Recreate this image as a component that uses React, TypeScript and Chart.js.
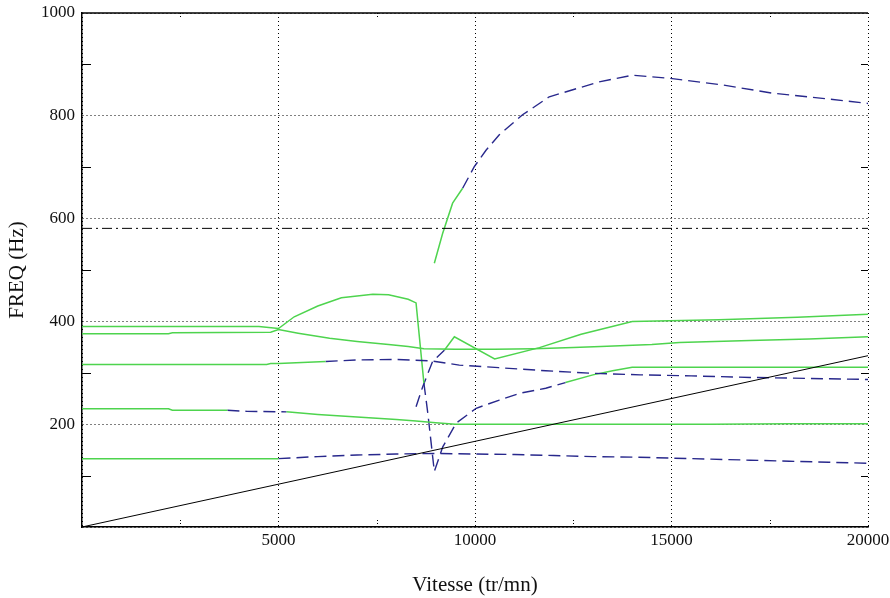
import React, { useEffect, useRef } from 'react';
import { Chart, registerables } from 'chart.js';

Chart.register(...registerables);

// Axis ranges and ticks
const X_MIN = 0;
const X_MAX = 20000;
const X_STEP = 5000;
const Y_MIN = 0;
const Y_MAX = 1000;
const Y_STEP = 200;
const MINOR_X = [2500, 7500, 12500, 17500];
const MINOR_Y = [100, 300, 500, 700, 900];

const X_TITLE = 'Vitesse (tr/mn)';
const Y_TITLE = 'FREQ (Hz)';

// Excitation line (1 x speed) and limit line
const EXC_X = [0, 20000];
const EXC_Y = [0, 333.3];
const LIMIT_X = [0, 20000];
const LIMIT_Y = [581, 581];

// Mode 1
const M1G_X = [0, 5000];
const M1G_Y = [133, 133];
const M1B_X = [5000, 6000, 7000, 8000, 9000, 10000, 11000, 12000, 13000, 14000, 15000, 16000, 17000, 18000, 19000, 20000];
const M1B_Y = [133, 137, 140, 142, 143, 142, 141, 139, 137, 136, 134, 132, 130, 128, 126, 124];

// Mode 2
const M2G1_X = [0, 2200, 2300, 3700];
const M2G1_Y = [230, 230, 227, 227];
const M2B_X = [3700, 4200, 5200];
const M2B_Y = [227, 225, 224];
const M2G2_X = [5200, 6000, 7000, 8000, 8500, 9000, 9500, 10000, 12000, 14000, 16000, 18000, 20000];
const M2G2_Y = [224, 219, 214, 209, 206, 203, 200, 200, 200, 200, 200, 201, 201];

// Mode 3
const M3G_X = [0, 4700, 4800, 5000, 6200];
const M3G_Y = [316, 316, 318, 318, 322];
const M3B_X = [6200, 7000, 8000, 8900, 9600, 10600, 11800, 13000, 14200, 15500, 17000, 18500, 20000];
const M3B_Y = [322, 325, 326, 323, 315, 310, 304, 299, 296, 294, 291, 289, 287];

// Mode 4 (arc, drop, rise)
const M4G1_X = [0, 4500, 5000, 5400, 6000, 6600, 7400, 7800, 8300, 8500, 8700];
const M4G1_Y = [390, 390, 386, 409, 430, 446, 453, 452, 443, 436, 280];
const M4B_X = [8700, 8800, 8965, 9180, 9520, 10030, 10620, 11130, 11800, 12300];
const M4B_Y = [280, 221, 108, 156, 202, 231, 247, 260, 270, 281];
const M4G2_X = [12300, 13000, 13500, 14000, 20000];
const M4G2_Y = [281, 296, 304, 311, 311];

// Mode 5
const M5G_X = [0, 2200, 2300, 4800, 5000, 5500, 6300, 7000, 7800, 8300, 8700, 9500, 10500, 11500, 12500, 13200, 14500, 15200, 17000, 18500, 20000];
const M5G_Y = [376, 376, 378, 379, 384, 377, 367, 361, 355, 351, 347, 346, 346, 347, 349, 351, 355, 359, 363, 366, 370];

// Mode 6
const M6B_X = [8500, 8670, 8920, 9220];
const M6B_Y = [234, 273, 322, 344];
const M6G_X = [9220, 9475, 10500, 11640, 12700, 14000, 16200, 18200, 20000];
const M6G_Y = [344, 370, 327, 349, 375, 400, 403, 408, 414];

// Mode 7
const M7G_X = [8965, 9176, 9430, 9685];
const M7G_Y = [513, 571, 630, 659];
const M7B_X = [9685, 9982, 10280, 10618, 11210, 11890, 13160, 14010, 14940, 16300, 17570, 18840, 20000];
const M7B_Y = [659, 701, 733, 763, 802, 837, 866, 879, 873, 860, 844, 834, 824];

const GREEN = 'rgb(78,212,78)';
const BLUE = 'rgb(40,40,140)';
const BLACK = '#000000';
const FONT = "'Liberation Serif', 'Times New Roman', serif";

const pts = (xs: number[], ys: number[]) => xs.map((x, i) => ({ x, y: ys[i] }));

const green = (xs: number[], ys: number[]) => ({
  data: pts(xs, ys),
  borderColor: GREEN,
  borderWidth: 1.5,
  pointRadius: 0,
  fill: false,
  tension: 0,
});
const blue = (xs: number[], ys: number[]) => ({
  data: pts(xs, ys),
  borderColor: BLUE,
  borderWidth: 1.4,
  borderDash: [12, 6],
  pointRadius: 0,
  fill: false,
  tension: 0,
});

const framePlugin = {
  id: 'frameTicks',
  afterDraw(chart: any) {
    const { ctx, chartArea: a, scales } = chart;
    const xs = scales.x;
    const ys = scales.y;
    ctx.save();
    ctx.strokeStyle = '#000';
    ctx.lineWidth = 1.5;
    ctx.beginPath();
    ctx.moveTo(a.left, a.top);
    ctx.lineTo(a.right, a.top);
    ctx.stroke();
    ctx.lineWidth = 1;
    ctx.beginPath();
    for (const v of MINOR_Y) {
      const py = Math.round(ys.getPixelForValue(v)) + 0.5;
      ctx.moveTo(a.left, py);
      ctx.lineTo(a.left + 9, py);
      ctx.moveTo(a.right, py);
      ctx.lineTo(a.right - 7, py);
    }
    ctx.stroke();
    ctx.setLineDash([1, 2]);
    ctx.beginPath();
    for (const v of MINOR_X) {
      const px = Math.round(xs.getPixelForValue(v)) + 0.5;
      ctx.moveTo(px, a.bottom);
      ctx.lineTo(px, a.bottom - 7);
      ctx.moveTo(px, a.top);
      ctx.lineTo(px, a.top + 4);
    }
    ctx.stroke();
    ctx.restore();
  },
};

export default function App() {
  const ref = useRef<HTMLCanvasElement | null>(null);

  useEffect(() => {
    if (!ref.current) return;
    const chart = new Chart(ref.current, {
      type: 'line',
      data: {
        datasets: [
          { data: pts(EXC_X, EXC_Y), borderColor: BLACK, borderWidth: 1, pointRadius: 0, tension: 0 },
          { data: pts(LIMIT_X, LIMIT_Y), borderColor: BLACK, borderWidth: 1, borderDash: [10, 4, 2, 4], pointRadius: 0, tension: 0 },
          green(M1G_X, M1G_Y),
          blue(M1B_X, M1B_Y),
          green(M2G1_X, M2G1_Y),
          blue(M2B_X, M2B_Y),
          green(M2G2_X, M2G2_Y),
          green(M3G_X, M3G_Y),
          blue(M3B_X, M3B_Y),
          green(M4G1_X, M4G1_Y),
          blue(M4B_X, M4B_Y),
          green(M4G2_X, M4G2_Y),
          green(M5G_X, M5G_Y),
          blue(M6B_X, M6B_Y),
          green(M6G_X, M6G_Y),
          green(M7G_X, M7G_Y),
          blue(M7B_X, M7B_Y),
        ] as any,
      },
      options: {
        responsive: false,
        animation: false,
        layout: { padding: { top: 13, right: 22, left: 0, bottom: 0 } },
        plugins: { legend: { display: false }, tooltip: { enabled: false }, title: { display: false } },
        scales: {
          x: {
            type: 'linear',
            min: X_MIN,
            max: X_MAX,
            afterFit: (s: any) => {
              s.height = 71;
              s.paddingLeft = 0;
              s.paddingRight = 0;
            },
            ticks: {
              stepSize: X_STEP,
              color: '#111',
              font: { family: FONT, size: 17 },
              padding: 3,
              maxRotation: 0,
              callback: (v: any) => (v === 0 ? '' : String(v)),
            },
            grid: { color: '#000', lineWidth: 1, drawTicks: false },
            border: { display: true, color: '#000', width: 1.5, dash: [1, 3] },
            title: { display: true, text: X_TITLE, color: '#111', font: { family: FONT, size: 21 }, padding: { top: 0, bottom: 0 } },
          },
          y: {
            type: 'linear',
            min: Y_MIN,
            max: Y_MAX,
            afterFit: (s: any) => {
              s.width = 82;
              s.paddingTop = 0;
              s.paddingBottom = 0;
            },
            ticks: {
              stepSize: Y_STEP,
              color: '#111',
              font: { family: FONT, size: 17 },
              padding: 7,
              callback: (v: any) => (v === 0 ? '' : String(v)),
            },
            grid: { color: '#000', lineWidth: 1, drawTicks: false },
            border: { display: true, color: '#000', width: 1.5, dash: [1, 3] },
            title: { display: true, text: Y_TITLE, color: '#111', font: { family: FONT, size: 21 }, padding: { top: 5, bottom: 0 } },
          },
        },
      } as any,
      plugins: [framePlugin],
    });
    return () => chart.destroy();
  }, []);

  return (
    <div style={{ position: 'absolute', left: 0, top: 0, width: 890, height: 598, background: '#fff' }}>
      <canvas ref={ref} width={890} height={598} style={{ display: 'block' }} />
    </div>
  );
}
